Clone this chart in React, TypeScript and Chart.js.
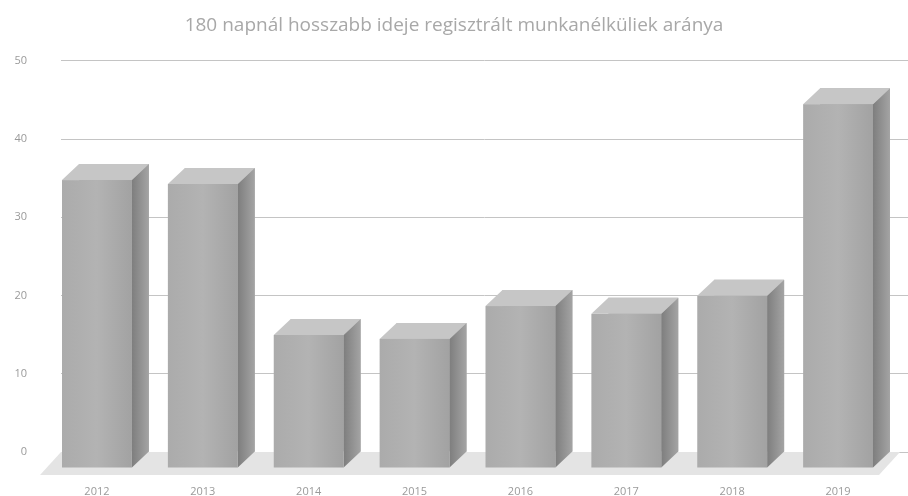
import React, { useEffect, useRef } from "react";
import { Chart, registerables } from "chart.js";

Chart.register(...registerables);

const TITLE = "180 napnál hosszabb ideje regisztrált munkanélküliek aránya";
const YEARS = ["2012", "2013", "2014", "2015", "2016", "2017", "2018", "2019"];
const VALUES = [36.8, 36.3, 17.0, 16.5, 20.7, 19.7, 22.0, 46.5];
const Y_TICKS = [0, 10, 20, 30, 40, 50];

const DX = 17;
const DY = 16;

const floorPlugin = {
  id: "floor3d",
  beforeDatasetsDraw(chart: any) {
    const { ctx, chartArea } = chart;
    const y0 = chart.scales.y.getPixelForValue(0);
    ctx.save();
    ctx.fillStyle = "#e4e4e4";
    ctx.beginPath();
    ctx.moveTo(chartArea.left, y0);
    ctx.lineTo(chartArea.right - 8, y0);
    ctx.lineTo(chartArea.right - 8 - DX - 4, y0 + DY + 7);
    ctx.lineTo(chartArea.left - DX - 4, y0 + DY + 7);
    ctx.closePath();
    ctx.fill();
    ctx.restore();
  },
};

const box3dPlugin = {
  id: "box3d",
  afterDatasetsDraw(chart: any) {
    const { ctx } = chart;
    const meta = chart.getDatasetMeta(0);
    ctx.save();
    meta.data.forEach((bar: any) => {
      const { x, y, base, width } = bar.getProps(["x", "y", "base", "width"], true);
      const L = x - width / 2;
      const R = x + width / 2;
      // side face
      const sideGrad = ctx.createLinearGradient(R - DX, 0, R, 0);
      sideGrad.addColorStop(0, "#7e7e7e");
      sideGrad.addColorStop(1, "#a4a4a4");
      ctx.fillStyle = sideGrad;
      ctx.beginPath();
      ctx.moveTo(R - DX, y + DY);
      ctx.lineTo(R, y);
      ctx.lineTo(R, base);
      ctx.lineTo(R - DX, base + DY);
      ctx.closePath();
      ctx.fill();
      // top face
      ctx.fillStyle = "#c6c6c6";
      ctx.beginPath();
      ctx.moveTo(L - DX, y + DY);
      ctx.lineTo(L, y);
      ctx.lineTo(R, y);
      ctx.lineTo(R - DX, y + DY);
      ctx.closePath();
      ctx.fill();
      // front face
      const frontGrad = ctx.createLinearGradient(L - DX, 0, R - DX, 0);
      frontGrad.addColorStop(0, "#ababab");
      frontGrad.addColorStop(0.5, "#b3b3b3");
      frontGrad.addColorStop(1, "#a2a2a2");
      ctx.fillStyle = frontGrad;
      ctx.fillRect(L - DX, y + DY, width, base - y);
    });
    ctx.restore();
  },
};

export default function App() {
  const ref = useRef<HTMLCanvasElement | null>(null);

  useEffect(() => {
    if (!ref.current) return;
    const chart = new Chart(ref.current, {
      type: "bar",
      data: {
        labels: YEARS,
        datasets: [
          {
            data: VALUES,
            backgroundColor: "#b0b0b0",
            borderWidth: 0,
            categoryPercentage: 1,
            barPercentage: 0.66,
          },
        ],
      },
      plugins: [floorPlugin, box3dPlugin],
      options: {
        animation: false,
        responsive: true,
        maintainAspectRatio: false,
        layout: { padding: { left: 0, right: 0, top: 0, bottom: 0 } },
        plugins: {
          legend: { display: false },
          tooltip: { enabled: false },
          title: {
            display: true,
            text: TITLE,
            color: "#a8a8a8",
            font: { family: "Open Sans", size: 19, weight: "normal" },
            padding: { top: 14, bottom: 24 },
          },
        },
        scales: {
          x: {
            grid: { display: false, drawTicks: false },
            border: { display: false },
            ticks: {
              color: "#9a9a9a",
              font: { family: "Open Sans", size: 11 },
              padding: 33,
              labelOffset: -DX,
              maxRotation: 0,
            },
            afterFit(scale: any) {
              scale.height = 44;
            },
          },
          y: {
            min: 0,
            max: 50,
            afterBuildTicks(scale: any) {
              scale.ticks = Y_TICKS.map((v) => ({ value: v }));
            },
            grid: { color: "#c4c4c4", lineWidth: 1, drawTicks: false },
            border: { display: false },
            ticks: {
              color: "#9a9a9a",
              font: { family: "Open Sans", size: 11 },
              padding: 34,
            },
            afterFit(scale: any) {
              scale.width = 61;
            },
          },
        },
      },
    });
    return () => chart.destroy();
  }, []);

  return (
    <div style={{ position: "absolute", left: 0, top: 0, width: 908, height: 496 }}>
      <canvas ref={ref} />
    </div>
  );
}
